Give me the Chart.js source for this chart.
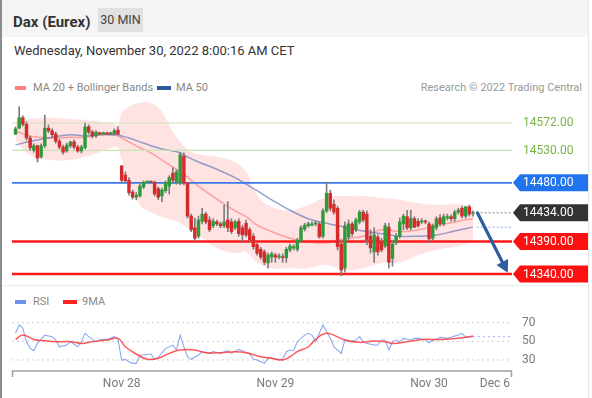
<!DOCTYPE html>
<html>
<head>
<meta charset="utf-8">
<script src="https://cdn.jsdelivr.net/npm/chart.js@4.4.0/dist/chart.umd.min.js"></script>
<style>
html,body{margin:0;padding:0;background:#fff;}
body{width:592px;height:398px;position:relative;overflow:hidden;font-family:Roboto,"Liberation Sans",Arial,sans-serif;}
.abs{position:absolute;white-space:nowrap;}
#leftbar{left:0;top:0;width:2px;height:398px;background:#8c8c8c;}
#rightbar{left:588px;top:0;width:1px;height:398px;background:#e8e8e8;}
#head{left:2px;top:0;width:586px;height:37px;background:#f5f5f5;}
#title{left:13px;top:12px;font-size:15px;font-weight:bold;color:#333;line-height:20px;}
#tf{left:98px;top:8px;width:45px;height:24px;background:#e1e1e1;color:#444;font-size:12.5px;line-height:24px;text-align:center;}
#date{left:14px;top:42px;font-size:13px;color:#333;line-height:18px;}
.lg{font-size:11px;color:#888;line-height:14px;}
.sw{height:4px;}
#sep{left:2px;top:285px;width:586px;height:1px;background:#ececec;}
canvas{position:absolute;left:0;}
</style>
</head>
<body>
<div class="abs" id="head"></div>
<div class="abs" id="leftbar"></div>
<div class="abs" id="rightbar"></div>
<div class="abs" id="title">Dax (Eurex)</div>
<div class="abs" id="tf">30 MIN</div>
<div class="abs" id="date">Wednesday, November 30, 2022 8:00:16 AM CET</div>

<div class="abs sw" style="left:15px;top:86px;width:11px;background:#ff7f7f;"></div>
<div class="abs lg" style="left:33px;top:81px;">MA 20 + Bollinger Bands</div>
<div class="abs sw" style="left:157px;top:86px;width:14px;background:#2c5aa0;"></div>
<div class="abs lg" style="left:176px;top:81px;">MA 50</div>
<div class="abs lg" style="right:10px;top:81px;color:#9a9a9a;">Research © 2022 Trading Central</div>

<div class="abs" id="sep"></div>
<div class="abs sw" style="left:15px;top:300px;width:11px;background:#6f93ea;"></div>
<div class="abs lg" style="left:33px;top:295px;">RSI</div>
<div class="abs sw" style="left:63px;top:300px;width:14px;background:#ff2222;"></div>
<div class="abs lg" style="left:82px;top:295px;">9MA</div>

<canvas id="cMain" width="592" height="190" style="top:96px"></canvas>
<canvas id="cRsi" width="592" height="93" style="top:305px"></canvas>

<script>
// ---------- DATA ----------
const open = [
14555,14564,14580,14570,14549,14530,14537,14520,14537,14564,
14560,14555,14544,14535,14529,14537,14543,14535,14529,14534,
14566,14558,14552,14557,14555,14557,14555,14555,14561,
14506,14492,14484,14466,14458,14460,14474,14481,14482,14481,
14471,14460,14468,14475,14495,14481,14480,14521,14480,14429,
14411,14398,14421,14432,14423,14414,14420,14417,14414,14423,
14420,14411,14421,14411,14418,14408,14398,14385,14378,14374,
14357,14366,
14369,14366,14366,14365,14377,14380,14378,14391,14409,14414,
14415,14417,14417,14398,14437,14464,14447,14441,14386,14349,
14397,14417,14408,14420,14435,14432,14398,14374,14397,14389,
14383,14412,14364,14388,14398,14417,14428,14411,14425,14421,
14420,14421,
14417,14395,14411,14426,14417,14426,14428,14425,14435,14441,
14429,14443,14433];
const high = [
14566,14597,14583,14574,14552,14540,14538,14540,14584,14569,
14563,14558,14547,14538,14541,14544,14546,14538,14538,14572,
14569,14561,14560,14558,14558,14558,14558,14563,14566,
14507,14497,14488,14469,14465,14478,14483,14483,14483,14483,
14474,14472,14483,14491,14503,14500,14527,14526,14481,14432,
14426,14429,14441,14435,14428,14425,14423,14420,14446,14451,
14425,14423,14425,14415,14423,14411,14402,14387,14381,14377,
14372,14374,
14372,14371,14371,14381,14386,14385,14395,14414,14418,14420,
14420,14421,14420,14440,14481,14469,14454,14444,14392,14420,
14423,14420,14426,14438,14438,14437,14408,14411,14400,14395,
14418,14418,14392,14402,14426,14432,14438,14438,14428,14425,
14425,14423,
14420,14417,14428,14431,14432,14432,14431,14438,14441,14444,
14444,14446,14437];
const low = [
14554,14563,14567,14546,14530,14527,14512,14518,14534,14557,
14550,14541,14532,14524,14527,14534,14532,14527,14526,14532,
14555,14549,14550,14554,14554,14554,14554,14554,14554,
14480,14480,14461,14455,14454,14458,14471,14480,14480,14460,
14454,14451,14465,14463,14480,14478,14477,14477,14426,14405,
14391,14395,14417,14417,14405,14411,14414,14411,14411,14405,
14402,14408,14398,14389,14397,14389,14378,14369,14363,14354,
14349,14358,
14358,14363,14358,14358,14374,14377,14375,14388,14406,14412,
14414,14414,14395,14395,14434,14437,14432,14377,14337,14343,
14392,14398,14405,14417,14420,14385,14372,14358,14369,14374,
14380,14349,14352,14385,14395,14408,14408,14408,14411,14412,
14417,14417,
14388,14392,14408,14414,14414,14423,14421,14421,14432,14426,
14426,14429,14429];
const close = [
14563,14580,14570,14549,14534,14537,14518,14537,14564,14560,
14554,14544,14535,14527,14538,14543,14535,14529,14535,14566,
14558,14552,14558,14555,14557,14555,14557,14560,14555,
14484,14483,14465,14458,14461,14475,14481,14482,14481,14463,
14458,14469,14480,14488,14484,14497,14523,14480,14429,14408,
14395,14423,14432,14420,14408,14421,14417,14414,14420,14411,
14405,14420,14402,14400,14400,14392,14382,14372,14366,14358,
14369,14371,
14366,14368,14365,14378,14383,14382,14392,14411,14415,14417,
14417,14418,14397,14437,14464,14441,14435,14382,14346,14414,
14417,14402,14423,14435,14423,14392,14380,14400,14374,14377,
14414,14358,14386,14398,14420,14429,14411,14425,14412,14414,
14421,14420,
14394,14414,14425,14417,14428,14428,14425,14435,14438,14429,
14443,14432,14434];

// Bollinger band / moving averages, read at these bar indices
const bandIdx = [0,4,10,15,19,23,27,28,29,31,34,37,40,43,45,47,50,55,60,63,66,70,75,80,85,90,95,100,105,110,115,120,125];
const bbUpper = [14575,14578,14580,14578,14577,14574,14570,14569,14587,14597,14603,14603,14589,14558,14543,14531,14524,14520,14512,14497,14461,14443,14438,14446,14458,14460,14460,14457,14454,14449,14446,14448,14444];
const bbLower = [14546,14523,14515,14515,14520,14527,14535,14535,14515,14484,14446,14435,14428,14423,14418,14411,14400,14380,14372,14374,14358,14349,14349,14349,14354,14346,14349,14357,14358,14369,14377,14382,14388];
const ma20 = [14560,14552,14549,14550,14550,14554,14554,14552,14549,14543,14534,14526,14515,14504,14497,14489,14475,14455,14437,14428,14415,14405,14395,14389,14388,14394,14398,14408,14405,14408,14414,14420,14425];
const ma50 = [14538,14544,14550,14554,14552,14554,14554,14554,14552,14549,14543,14537,14532,14529,14526,14520,14512,14501,14488,14478,14468,14454,14438,14425,14418,14412,14406,14402,14398,14398,14400,14406,14412];

// Key levels
const levels = [14572, 14530, 14480, 14390, 14340];
// Forecast arrow (bar index, price)
const arrowIdx = [126.2, 134.5];
const arrowPrice = [14434, 14342];

// RSI panel
const rsiIdx = [0,1,2,3,4,5,6,8,10,11,12,14,15,17,18,19,20,22,23,25,27,28,29,30,31,32,33,34,35,37,38,39,41,43,44,45,46,47,48,50,51,53,54,56,58,59,61,62,64,65,66,68,69,70,71,73,74,75,76,77,79,80,81,82,83,84,85,86,87,89,90,91,93,94,95,96,98,99,100,101,102,103,104,105,106,108,109,110,112,113,114,115,116,118,119,120,121,122,123,124,125];
const rsiVal = [58.6,67.5,64,49.6,42.5,40,47.8,56.7,55,51.4,44.2,46,49.6,44.2,49.6,58.6,55,49.6,52,52,55,52,30,30.7,28,26.4,26.4,35.3,35.3,36.4,30.7,32.8,42.5,46,40.7,56.7,44.2,33.5,30.7,35.3,38.9,37.1,38.9,37.1,40,37.1,41.4,40,36.4,31,30,26.4,31.8,31.8,30.7,30.7,38.9,40.7,40,49.6,56.7,58.6,56.7,49.6,58.6,67.5,60.3,53.2,44.2,37.1,51.4,49.6,51.4,55,49.6,47.8,46,46,51.4,51.4,40.7,49.6,51.4,49.6,53.2,51.4,53.2,53.2,51.4,48.5,51.4,52,54.3,53.2,54.3,55.7,56.7,58.6,54.3,55,55];
const maIdx = [0,2,5,8,11,15,18,21,25,28,30,33,36,39,42,45,49,52,56,60,63,67,70,73,75,77,80,82,85,90,94,98,101,103,107,111,116,121,125];
const maVal = [52,56.7,52,50.6,49.6,49.6,47.8,49.6,51.4,53.2,44.2,36.4,30.7,31.8,37.1,40.7,40.7,37.8,37.8,38.9,37.8,33.5,31.8,30,33.5,38.9,44.2,52,58.6,51.4,48.9,50.3,49.6,47.8,49.6,52,52,53.2,55.7];
const rsiTicks = [30, 50, 70];

// X axis labels (bar index of each label)
const xTickPos = [29, 71, 113, 131];
const xTickLabels = ['Nov 28', 'Nov 29', 'Nov 30', 'Dec 6'];

// ---------- CONFIG ----------
const X_MIN = -0.96, X_MAX = 135.66;
const FONT = '12px Roboto, "Liberation Sans", Arial, sans-serif';
const pts = (xs, ys) => xs.map((x, k) => ({x, y: ys[k]}));
const lastI = close.length - 1;

const levelStyles = [
  {line:'#cbe4b4', w:1.2, text:'#79b447', box:null},
  {line:'#cbe4b4', w:1.2, text:'#79b447', box:null},
  {line:'#3b78e7', w:1.6, text:'#ffffff', box:'#2273ee'},
  {line:'#ff1a1a', w:2.4, text:'#ffffff', box:'#ff1010'},
  {line:'#ff1a1a', w:2.4, text:'#ffffff', box:'#ff1010'}
];

const base = {
  responsive:false, devicePixelRatio:1, animation:false,
  plugins:{legend:{display:false}, tooltip:{enabled:false}},
  events:[]
};

const lineDs = (data, extra) => Object.assign({type:'line', data, pointRadius:0, borderWidth:1, fill:false, tension:0}, extra);

const mainDatasets = [
  lineDs(pts(bandIdx, bbUpper), {borderWidth:0, borderColor:'rgba(0,0,0,0)', fill:'+1', backgroundColor:'rgba(255,40,40,0.13)', tension:0.4, order:20}),
  lineDs(pts(bandIdx, bbLower), {borderWidth:0, borderColor:'rgba(0,0,0,0)', tension:0.4, order:20}),
  lineDs(pts(bandIdx, ma20), {borderColor:'rgba(255,90,90,0.5)', borderWidth:1.5, tension:0.4, order:12}),
  lineDs(pts(bandIdx, ma50), {borderColor:'rgba(60,95,170,0.55)', borderWidth:1.5, tension:0.4, order:11}),
  ...levels.map((v, k) => lineDs([{x:X_MIN, y:v}, {x:X_MAX, y:v}], {borderColor:levelStyles[k].line, borderWidth:levelStyles[k].w, order:9})),
  lineDs([{x:lastI + 1, y:close[lastI]}, {x:X_MAX, y:close[lastI]}], {borderColor:'#8a8a8a', borderWidth:1, borderDash:[2,2], order:8}),
  lineDs([{x:lastI + 1, y:ma50[ma50.length-1]}, {x:X_MAX, y:ma50[ma50.length-1]}], {borderColor:'#8fb0e8', borderWidth:1, borderDash:[2,2], order:8}),
  {type:'bar', data: close.map((c, i) => ({x:i, y:[low[i], high[i]]})), backgroundColor:'#7d7d7d', barThickness:1, grouped:false, order:2},
  {type:'bar', data: close.map((c, i) => ({x:i, y:[open[i], c]})), backgroundColor: close.map((c, i) => c >= open[i] ? '#2f9a3a' : '#d62b2b'),
   barThickness:2.8, minBarLength:1, grouped:false, order:1}
];

const mainOverlay = {
  id:'mainOverlay',
  afterDraw(chart){
    const {ctx, chartArea:a, scales:{x, y}} = chart;
    ctx.save();
    // arrow
    const x1 = x.getPixelForValue(arrowIdx[0]), y1 = y.getPixelForValue(arrowPrice[0]);
    const x2 = x.getPixelForValue(arrowIdx[1]), y2 = y.getPixelForValue(arrowPrice[1]);
    const ang = Math.atan2(y2 - y1, x2 - x1), head = 12, hw = 6.5;
    const bx = x2 - head * Math.cos(ang), by = y2 - head * Math.sin(ang);
    ctx.strokeStyle = ctx.fillStyle = '#2c5d9c';
    ctx.lineWidth = 3.2; ctx.lineCap = 'round';
    ctx.beginPath(); ctx.moveTo(x1, y1); ctx.lineTo(bx, by); ctx.stroke();
    ctx.beginPath(); ctx.moveTo(x2, y2);
    ctx.lineTo(bx - hw * Math.sin(ang), by + hw * Math.cos(ang));
    ctx.lineTo(bx + hw * Math.sin(ang), by - hw * Math.cos(ang));
    ctx.closePath(); ctx.fill();
    // price tags
    ctx.font = FONT; ctx.textBaseline = 'middle'; ctx.textAlign = 'left';
    const L = a.right + 1, R = 588, h = 17;
    const tags = levels.map((v, k) => ({v, st:levelStyles[k]}));
    tags.push({v:close[lastI], st:{text:'#ffffff', box:'#333333'}});
    tags.forEach(({v, st}) => {
      const py = y.getPixelForValue(v);
      if (st.box) {
        ctx.fillStyle = st.box;
        ctx.beginPath();
        ctx.moveTo(L, py); ctx.lineTo(L + 7, py - h/2); ctx.lineTo(R, py - h/2);
        ctx.lineTo(R, py + h/2); ctx.lineTo(L + 7, py + h/2); ctx.closePath(); ctx.fill();
      }
      ctx.fillStyle = st.text;
      ctx.fillText(v.toFixed(2), L + 10, py + 0.5);
    });
    ctx.restore();
  }
};

new Chart(document.getElementById('cMain'), {
  type:'line',
  data:{datasets: mainDatasets},
  options: Object.assign({}, base, {
    layout:{padding:{left:12, right:80, top:4, bottom:6}},
    scales:{
      x:{type:'linear', min:X_MIN, max:X_MAX, display:false, offset:false},
      y:{type:'linear', min:14330.8, max:14607.3, display:false}
    }
  }),
  plugins:[mainOverlay]
});

const rsiOverlay = {
  id:'rsiOverlay',
  afterDraw(chart){
    const {ctx, chartArea:a, scales:{x, y}} = chart;
    ctx.save();
    ctx.strokeStyle = '#a0a0a0'; ctx.lineWidth = 1.5;
    ctx.beginPath();
    ctx.moveTo(a.left + 0.5, a.bottom + 6); ctx.lineTo(a.left + 0.5, a.bottom);
    ctx.lineTo(a.right - 0.5, a.bottom); ctx.lineTo(a.right - 0.5, a.bottom + 6);
    ctx.stroke();
    ctx.font = FONT; ctx.fillStyle = '#7a7a7a'; ctx.textBaseline = 'middle';
    ctx.textAlign = 'center';
    xTickPos.forEach((p, k) => ctx.fillText(xTickLabels[k], x.getPixelForValue(p), a.bottom + 13));
    ctx.textAlign = 'left';
    rsiTicks.forEach(v => ctx.fillText(String(v), a.right + 10, y.getPixelForValue(v)));
    ctx.restore();
  }
};

new Chart(document.getElementById('cRsi'), {
  type:'line',
  data:{datasets:[
    ...rsiTicks.map(v => lineDs([{x:X_MIN, y:v}, {x:X_MAX - 0.5, y:v}], {borderColor:'#cfcfcf', borderWidth:1, borderDash:[2,3], order:10})),
    lineDs([{x:rsiIdx[rsiIdx.length-1], y:rsiVal[rsiVal.length-1]}, {x:X_MAX, y:rsiVal[rsiVal.length-1]}], {borderColor:'#9db5ef', borderWidth:1, borderDash:[2,3], order:9}),
    lineDs(pts(rsiIdx, rsiVal), {borderColor:'rgba(100,140,235,0.75)', borderWidth:1.1, order:2}),
    lineDs(pts(maIdx, maVal), {borderColor:'rgba(255,60,60,0.85)', borderWidth:1.5, tension:0.4, order:1})
  ]},
  options: Object.assign({}, base, {
    layout:{padding:{left:12, right:80, top:5, bottom:27}},
    scales:{
      x:{type:'linear', min:X_MIN, max:X_MAX, display:false},
      y:{type:'linear', min:18.2, max:83.6, display:false}
    }
  }),
  plugins:[rsiOverlay]
});
</script>
</body>
</html>
